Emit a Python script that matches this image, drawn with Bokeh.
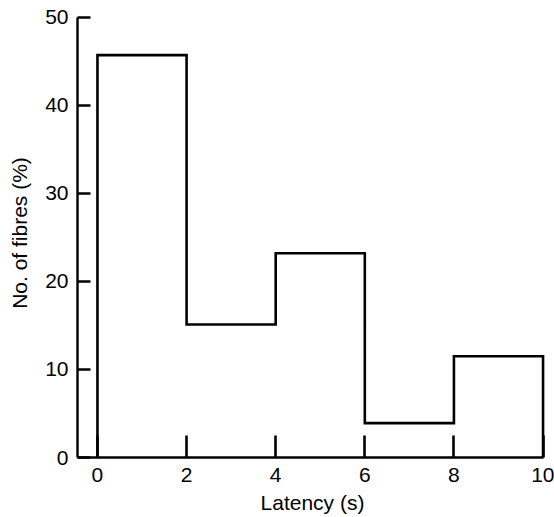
from bokeh.plotting import figure
from bokeh.models import FixedTicker, Range1d
from bokeh.embed import file_html
from bokeh.resources import INLINE

# Data
bin_edges = [0, 2, 4, 6, 8, 10]
percent = [45.7, 15.1, 23.2, 3.9, 11.5]
x_ticks = [0, 2, 4, 6, 8, 10]
y_ticks = [0, 10, 20, 30, 40, 50]

FONT = "Liberation Sans"

# Step outline of the histogram (no internal full-height dividers)
step_x = [bin_edges[0]]
step_y = [0]
for i, v in enumerate(percent):
    step_x += [bin_edges[i], bin_edges[i + 1]]
    step_y += [v, v]
step_x.append(bin_edges[-1])
step_y.append(0)

p = figure(width=554, height=517, output_backend="svg", toolbar_location=None,
           x_range=Range1d(-0.448, 10.1), y_range=Range1d(0, 51),
           min_border_left=77, min_border_right=7, min_border_top=8, min_border_bottom=60)
p.outline_line_color = None
p.xgrid.visible = False
p.ygrid.visible = False
p.background_fill_color = "white"
p.border_fill_color = "white"

p.line(step_x, step_y, line_color="black", line_width=2.6, line_join="miter")

for ax in (p.xaxis[0], p.yaxis[0]):
    ax.axis_line_width = 2.4
    ax.axis_line_color = "black"
    ax.major_tick_line_width = 2.6
    ax.major_tick_line_color = "black"
    ax.minor_tick_line_color = None
    ax.major_tick_out = 0
    ax.major_label_text_font = FONT
    ax.major_label_text_font_size = "21px"
    ax.major_label_text_color = "black"
    ax.axis_label_text_font = FONT
    ax.axis_label_text_font_size = "21px"
    ax.axis_label_text_font_style = "normal"
    ax.axis_label_text_color = "black"

xa = p.xaxis[0]
xa.ticker = FixedTicker(ticks=x_ticks)
xa.bounds = (-0.448, 10)
xa.major_tick_in = 22
xa.major_label_standoff = 10
xa.axis_label = "Latency (s)"
xa.axis_label_standoff = 6

ya = p.yaxis[0]
ya.ticker = FixedTicker(ticks=y_ticks)
ya.bounds = (0, 50)
ya.major_tick_in = 13
ya.major_label_standoff = 9
ya.axis_label = "No. of fibres (%)"
ya.axis_label_standoff = 11

open("out.html", "w").write(file_html(p, INLINE))
